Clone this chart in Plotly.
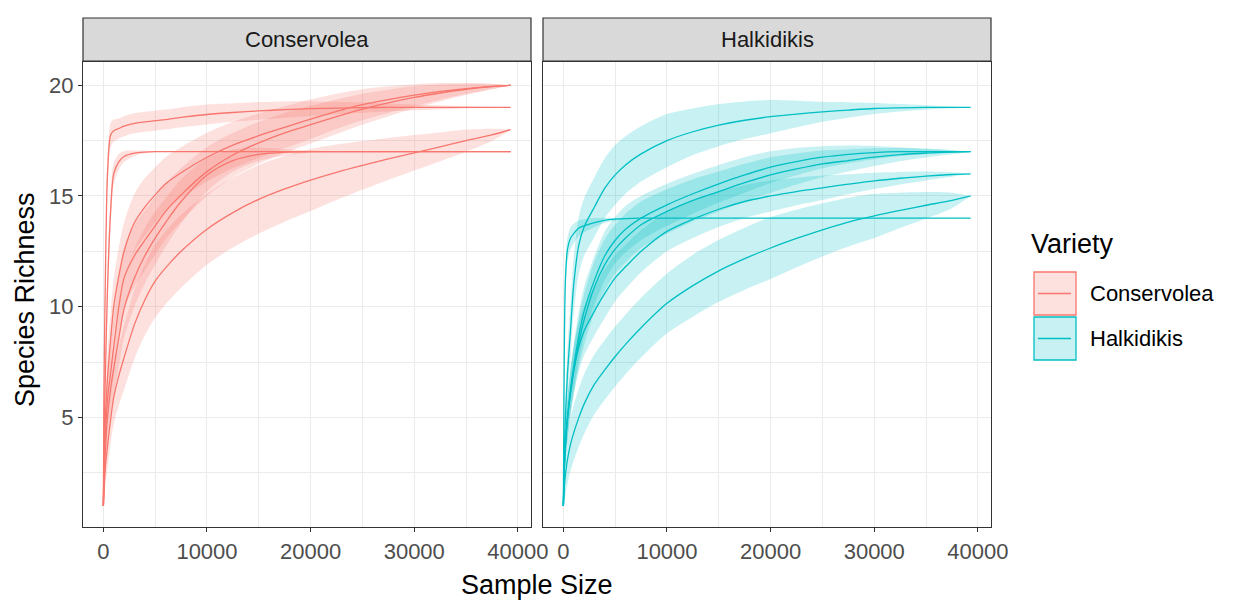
import plotly.graph_objects as go

# Rarefaction curves: species richness vs. sample size, faceted by olive variety.
sample_sizes = [1, 50, 100, 200, 400, 700, 1000, 1500, 2000, 3000, 4000, 5000, 6000, 7500,
                10000, 12500, 15000, 17500, 20000, 22500, 25000, 27500, 30000, 32500, 35000,
                37500, 39300]

# Conservolea samples (richness estimate and half-width of its confidence band)
cons_s1 = [1, 5.5, 8, 11.5, 16, 17.75, 17.95, 18.05, 18.15, 18.28, 18.35, 18.4, 18.45, 18.55,
           18.68, 18.77, 18.84, 18.9, 18.94, 18.97, 18.99, 19, 19, 19, 19, 19, 19]
cons_s1_ci = [0, 0.3, 0.4, 0.5, 0.6, 0.55, 0.5, 0.45, 0.45, 0.45, 0.45, 0.45, 0.45, 0.45,
              0.45, 0.42, 0.4, 0.37, 0.33, 0.28, 0.23, 0.18, 0.13, 0.09, 0.05, 0.02, 0]
cons_s2 = [1, 3, 5, 7, 10.8, 14.3, 16.0, 16.55, 16.78, 16.93, 16.98, 17, 17, 17,
           17, 17, 17, 17, 17, 17, 17, 17, 17, 17, 17, 17, 17]
cons_s2_ci = [0, 0.4, 0.6, 0.8, 0.9, 0.7, 0.5, 0.35, 0.25, 0.12, 0.05, 0.02, 0, 0,
              0, 0, 0, 0, 0, 0, 0, 0, 0, 0, 0, 0, 0]
cons_s3 = [1, 2.5, 3.5, 5.0, 6.8, 8.5, 10.0, 11.4, 12.5, 13.8, 14.5, 15.05, 15.55, 16.05,
           16.75, 17.3, 17.72, 18.1, 18.47, 18.82, 19.12, 19.35, 19.55, 19.72, 19.85, 19.95, 20]
cons_s3_ci = [0, 0.5, 0.7, 0.9, 1.1, 1.2, 1.25, 1.3, 1.3, 1.3, 1.3, 1.25, 1.2, 1.15,
              1.1, 1.05, 1.0, 0.95, 0.9, 0.8, 0.7, 0.6, 0.5, 0.38, 0.25, 0.12, 0]
cons_s4 = [1, 2.2, 3.0, 4.2, 5.8, 7.0, 8.2, 10.0, 11.3, 12.3, 13.0, 13.65, 14.3, 15.05,
           16.1, 16.85, 17.4, 17.85, 18.22, 18.58, 18.92, 19.2, 19.45, 19.65, 19.82, 19.94, 20]
cons_s4_ci = [0, 0.5, 0.7, 0.9, 1.1, 1.2, 1.3, 1.35, 1.4, 1.4, 1.35, 1.3, 1.25, 1.2,
              1.1, 1.0, 0.95, 0.9, 0.85, 0.78, 0.7, 0.6, 0.5, 0.38, 0.25, 0.12, 0]
cons_s5 = [1, 1.8, 2.5, 3.6, 5.0, 6.3, 7.2, 8.6, 9.9, 11.3, 12.3, 13.1, 13.8, 14.75,
           15.95, 16.6, 16.88, 16.97, 17, 17, 17, 17, 17, 17, 17, 17, 17]
cons_s5_ci = [0, 0.4, 0.6, 0.8, 1.0, 1.1, 1.2, 1.3, 1.3, 1.3, 1.25, 1.2, 1.1, 1.0,
              0.75, 0.5, 0.3, 0.15, 0.05, 0, 0, 0, 0, 0, 0, 0, 0]
cons_s6 = [1, 1.5, 2.0, 2.8, 3.7, 4.9, 5.9, 6.9, 7.7, 9.2, 10.3, 11.15, 11.75, 12.5,
           13.5, 14.25, 14.85, 15.32, 15.72, 16.07, 16.38, 16.67, 16.95, 17.22, 17.5, 17.76, 18.0]
cons_s6_ci = [0, 0.4, 0.6, 0.8, 1.0, 1.1, 1.2, 1.35, 1.45, 1.55, 1.6, 1.65, 1.65, 1.65,
              1.6, 1.58, 1.55, 1.48, 1.4, 1.25, 1.1, 0.95, 0.8, 0.65, 0.5, 0.28, 0]

# Halkidikis samples
halk_s1 = [1, 2.5, 3.5, 5.0, 7.0, 9.0, 11.0, 12.8, 13.6, 14.5, 15.35, 15.95, 16.4, 16.9,
           17.5, 17.9, 18.2, 18.42, 18.58, 18.7, 18.8, 18.88, 18.95, 18.98, 19, 19, 19]
halk_s1_ci = [0, 0.5, 0.7, 0.9, 1.1, 1.2, 1.25, 1.3, 1.3, 1.35, 1.35, 1.35, 1.3, 1.25,
              1.2, 1.05, 0.95, 0.85, 0.75, 0.6, 0.45, 0.35, 0.25, 0.17, 0.1, 0.04, 0]
halk_s2 = [1, 5, 8.5, 11.2, 12.6, 13.1, 13.3, 13.55, 13.65, 13.8, 13.9, 13.95, 13.98, 14,
           14, 14, 14, 14, 14, 14, 14, 14, 14, 14, 14, 14, 14]
halk_s2_ci = [0, 0.5, 0.6, 0.6, 0.55, 0.5, 0.45, 0.35, 0.3, 0.2, 0.12, 0.06, 0.03, 0,
              0, 0, 0, 0, 0, 0, 0, 0, 0, 0, 0, 0, 0]
halk_s3 = [1, 2.0, 2.8, 3.8, 5.0, 6.3, 7.3, 8.7, 9.8, 11.2, 12.3, 13.0, 13.5, 14.0,
           14.6, 15.1, 15.55, 15.95, 16.3, 16.55, 16.75, 16.88, 16.96, 17.0, 17.0, 17.0, 17.0]
halk_s3_ci = [0, 0.4, 0.55, 0.7, 0.9, 1.0, 1.05, 1.1, 1.1, 1.1, 1.1, 1.05, 1.05, 1.0,
              0.95, 0.9, 0.85, 0.8, 0.72, 0.62, 0.5, 0.4, 0.3, 0.2, 0.12, 0.05, 0]
halk_s4 = [1, 1.9, 2.7, 3.7, 4.9, 6.1, 7.1, 8.4, 9.4, 10.9, 11.9, 12.6, 13.1, 13.7,
           14.3, 14.8, 15.2, 15.6, 15.95, 16.22, 16.45, 16.6, 16.75, 16.87, 16.94, 16.98, 17.0]
halk_s4_ci = [0, 0.4, 0.55, 0.7, 0.9, 1.0, 1.05, 1.1, 1.15, 1.15, 1.15, 1.1, 1.1, 1.05,
              1.0, 0.95, 0.9, 0.85, 0.8, 0.7, 0.6, 0.5, 0.4, 0.3, 0.2, 0.1, 0]
halk_s5 = [1, 2.0, 2.8, 3.8, 5.0, 6.2, 7.1, 8.2, 8.9, 9.8, 10.6, 11.3, 11.8, 12.5,
           13.4, 13.95, 14.4, 14.75, 15.0, 15.2, 15.37, 15.53, 15.68, 15.8, 15.9, 15.97, 16.0]
halk_s5_ci = [0, 0.4, 0.6, 0.75, 0.9, 1.0, 1.05, 1.1, 1.1, 1.1, 1.1, 1.05, 1.0, 0.95,
              0.9, 0.85, 0.8, 0.75, 0.7, 0.62, 0.55, 0.45, 0.37, 0.28, 0.2, 0.1, 0]
halk_s6 = [1, 1.5, 1.9, 2.4, 3.1, 3.8, 4.3, 5.0, 5.6, 6.5, 7.15, 7.75, 8.3, 9.05,
           10.15, 10.95, 11.62, 12.17, 12.65, 13.08, 13.47, 13.82, 14.1, 14.35, 14.58, 14.8, 15.0]
halk_s6_ci = [0, 0.5, 0.7, 0.9, 1.1, 1.2, 1.25, 1.3, 1.35, 1.35, 1.35, 1.35, 1.35, 1.35,
              1.35, 1.4, 1.4, 1.4, 1.4, 1.3, 1.2, 1.1, 1.0, 0.8, 0.6, 0.35, 0]

varieties = ["Conservolea", "Halkidikis"]
line_colors = {"Conservolea": "#F8766D", "Halkidikis": "#00BFC4"}
fill_colors = {"Conservolea": "rgba(248,118,109,0.22)", "Halkidikis": "rgba(0,191,196,0.22)"}
curves = {
    "Conservolea": [(cons_s1, cons_s1_ci), (cons_s2, cons_s2_ci), (cons_s3, cons_s3_ci),
                    (cons_s4, cons_s4_ci), (cons_s5, cons_s5_ci), (cons_s6, cons_s6_ci)],
    "Halkidikis": [(halk_s1, halk_s1_ci), (halk_s2, halk_s2_ci), (halk_s3, halk_s3_ci),
                   (halk_s4, halk_s4_ci), (halk_s5, halk_s5_ci), (halk_s6, halk_s6_ci)],
}
x_ticks = [0, 10000, 20000, 30000, 40000]
y_ticks = [5, 10, 15, 20]

W, H = 1235, 601
L_PX, R_PX, T_PX, B_PX = 83, 991, 18, 527
FONT = "Liberation Sans, Arial, sans-serif"
SMALL = 22   # tick labels, strip text, legend labels
LARGE = 27   # axis titles, legend title


def px(xp):
    return (xp - L_PX) / (R_PX - L_PX)


def py(yp):
    return (B_PX - yp) / (B_PX - T_PX)


fig = go.Figure()
axis_ids = {"Conservolea": ("x", "y"), "Halkidikis": ("x2", "y2")}

# ribbons first, then lines on top
for v in varieties:
    xa, ya = axis_ids[v]
    for est, ci in curves[v]:
        upper = [e + c for e, c in zip(est, ci)]
        lower = [e - c for e, c in zip(est, ci)]
        fig.add_trace(go.Scatter(
            x=sample_sizes + sample_sizes[::-1], y=upper + lower[::-1],
            fill="toself", fillcolor=fill_colors[v], line=dict(width=0, shape="spline", smoothing=0.8),
            mode="lines", hoverinfo="skip", showlegend=False, xaxis=xa, yaxis=ya))
for v in varieties:
    xa, ya = axis_ids[v]
    for est, ci in curves[v]:
        fig.add_trace(go.Scatter(
            x=sample_sizes, y=est, mode="lines",
            line=dict(color=line_colors[v], width=1.3, shape="spline", smoothing=0.8),
            showlegend=False, name=v, xaxis=xa, yaxis=ya))

grid = "#EBEBEB"
border = "#333333"
tick_font = dict(family=FONT, size=SMALL, color="#4D4D4D")
x_common = dict(range=[-1964, 41264], tickvals=x_ticks, ticktext=[str(t) for t in x_ticks],
                ticks="outside", ticklen=4, tickcolor=border, tickwidth=1.1, tickfont=tick_font,
                showgrid=True, gridcolor=grid, gridwidth=1.1, zeroline=False,
                showline=True, mirror=True, linecolor=border, linewidth=1.2,
                minor=dict(tickvals=[5000, 15000, 25000, 35000], showgrid=True,
                           gridcolor=grid, gridwidth=0.6))
y_common = dict(range=[0.05, 21.05], tickvals=y_ticks, ticktext=[str(t) for t in y_ticks],
                showgrid=True, gridcolor=grid, gridwidth=1.1, zeroline=False,
                showline=True, mirror=True, linecolor=border, linewidth=1.2,
                minor=dict(tickvals=[2.5, 7.5, 12.5, 17.5], showgrid=True,
                           gridcolor=grid, gridwidth=0.6))

panel_top = py(62)
strip_bottom = py(61)
fig.update_layout(
    width=W, height=H,
    margin=dict(l=L_PX, r=W - R_PX, t=T_PX, b=H - B_PX),
    paper_bgcolor="white", plot_bgcolor="white",
    font=dict(family=FONT),
    xaxis=dict(domain=[0, px(531)], anchor="y", **x_common),
    xaxis2=dict(domain=[px(543), 1], anchor="y2", **x_common),
    yaxis=dict(domain=[0, panel_top], anchor="x", ticks="outside", ticklen=4, tickcolor=border,
               tickwidth=1.1, tickfont=tick_font, **y_common),
    yaxis2=dict(domain=[0, panel_top], anchor="x2", matches="y", showticklabels=False,
                ticks="", **y_common),
)

shapes = []
annotations = []
# facet strips
for v, (x0, x1) in zip(varieties, [(0, px(531)), (px(543), 1)]):
    shapes.append(dict(type="rect", xref="paper", yref="paper", x0=x0, x1=x1,
                       y0=strip_bottom, y1=1, fillcolor="#D9D9D9",
                       line=dict(color=border, width=1.2), layer="above"))
    annotations.append(dict(xref="paper", yref="paper", x=(x0 + x1) / 2,
                            y=(strip_bottom + 1) / 2, text=v, showarrow=False,
                            font=dict(size=SMALL, color="#1A1A1A"),
                            xanchor="center", yanchor="middle"))

# axis titles
annotations.append(dict(xref="paper", yref="paper", x=px(537), y=py(585), text="Sample Size",
                        showarrow=False, font=dict(size=LARGE, color="black"),
                        xanchor="center", yanchor="middle"))
annotations.append(dict(xref="paper", yref="paper", x=px(25), y=py(300), text="Species Richness",
                        showarrow=False, textangle=-90, font=dict(size=LARGE, color="black"),
                        xanchor="center", yanchor="middle"))

# legend
annotations.append(dict(xref="paper", yref="paper", x=px(1029), y=py(244), text="Variety",
                        showarrow=False, font=dict(size=LARGE, color="black"),
                        xanchor="left", yanchor="middle"))
for v, (top, bot) in zip(varieties, [(272, 315), (317, 360)]):
    mid = (top + bot) / 2
    shapes.append(dict(type="rect", xref="paper", yref="paper", x0=px(1034), x1=px(1076),
                       y0=py(bot), y1=py(top), fillcolor=fill_colors[v],
                       line=dict(color=line_colors[v], width=1.3)))
    shapes.append(dict(type="line", xref="paper", yref="paper", x0=px(1038), x1=px(1071),
                       y0=py(mid), y1=py(mid), line=dict(color=line_colors[v], width=1.3)))
    annotations.append(dict(xref="paper", yref="paper", x=px(1088), y=py(mid), text=v,
                            showarrow=False, font=dict(size=SMALL, color="black"),
                            xanchor="left", yanchor="middle"))

fig.update_layout(shapes=shapes, annotations=annotations)
fig.write_html("out.html")
